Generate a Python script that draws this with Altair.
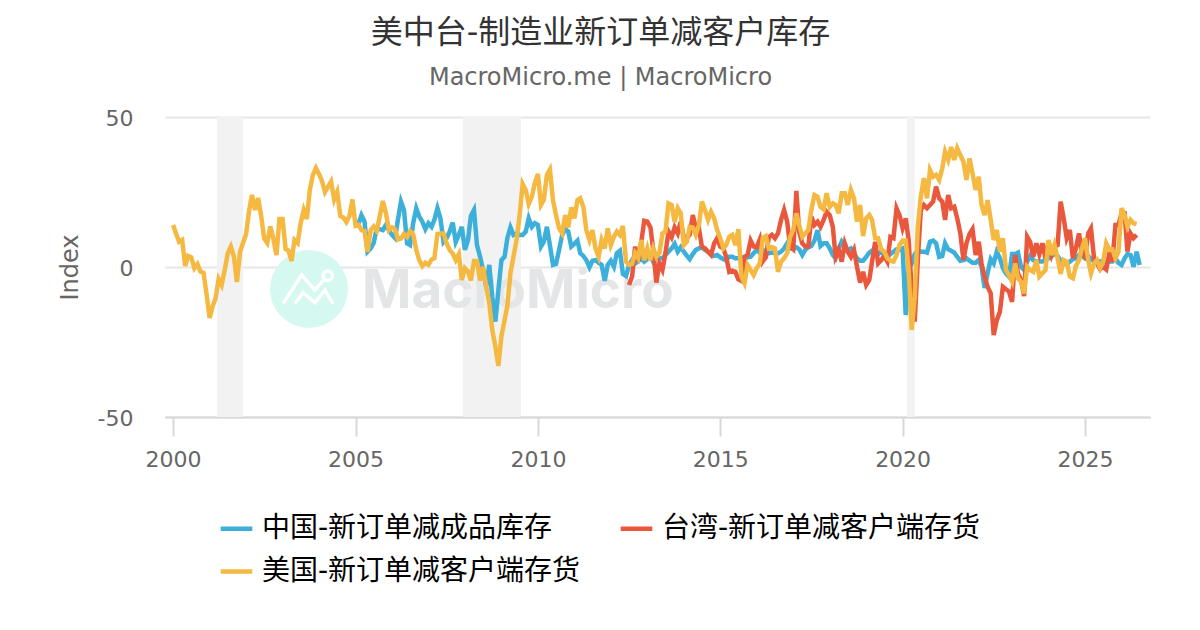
import altair as alt
import pandas as pd

TITLE = "美中台-制造业新订单减客户库存"
SUBTITLE = "MacroMicro.me | MacroMicro"
NAMES = ["中国-新订单减成品库存", "台湾-新订单减客户端存货", "美国-新订单减客户端存货"]
COLORS = ["#3cafda", "#e9573d", "#f5b841"]

us = [
 14,11,8.4,9,0.3,3.7,3.2,-0.4,1,-1.5,-2,-9,
 -17,-13,-10.5,-4,-6,-1,4.5,6.8,3.5,-5,5,8,
 11,19,24,19,23,17,9.5,8,13.5,9.5,4,16,
 16,6,5.5,2,9,8,14.5,19,16,25.7,30.7,33,
 31,28.5,25,26.8,28.5,22.5,25,17,16.5,15,17,22.5,
 13.7,14,12.3,12,5,12.3,13.5,12,17,22,18,12.3,
 13.2,12.5,9.2,9.5,11,10,12,11,5.7,2.3,0.3,1.4,
 0.7,2.5,2.9,11,11.2,11.2,7.9,5.7,4.5,2.3,4.3,-4.3,
 -0.4,-1.5,-4.5,2,2,-4.5,0.1,-6.5,-12,-21,-26.5,-33,
 -23,-17.7,-13,-2,3.4,9,16.8,27.7,25.7,21,23.4,27.9,
 31,20.7,22.3,30.7,32.5,22.3,17.3,12.9,11.2,17.3,13.2,19.9,
 16.2,22.3,22.9,20,12.3,9,12.3,6.2,3.4,9,6.2,12.9,
 7.3,10.1,11.8,10.7,13.7,1.8,0.7,1,4.6,2.9,9,2.3,
 6.2,2.3,6.2,3.4,4.6,11.2,11.8,21.2,20.7,15,19.6,17.9,
 7.3,8.4,13.4,13.2,10.7,14,21.8,19,15.7,18.4,16.2,12.3,
 9.6,6.2,7.3,10.1,10.7,7.3,12.6,-3.2,-5.4,0.7,-1,-2.7,
 -0.4,1.2,9.6,10.3,6.2,6.6,6.2,-1.6,1.8,2.9,4.6,10.1,
 12.3,17.9,14,10.1,11.2,12.3,19,24,23.4,20,19.2,24.6,
 20,21.2,20.7,17.9,24.6,24.6,20.7,25.7,22.9,15.1,20.7,10.3,
 16.2,17.3,15.7,9.6,9.6,5.9,5.1,2.9,2.1,1.8,4,7.3,
 8.8,8.8,-1,-21,-9.9,13.4,23.4,29.6,22.9,32.3,30.1,30.7,
 29,32.9,38.4,35.7,40,35.7,39.6,37.3,35.1,29,36.2,31.2,
 25.7,30.1,20.7,17.3,22.3,15.7,9,12.3,5.1,9.6,-1,-2.7,
 -4.9,1.2,-3.8,-4.9,-8.8,0.1,-1,-1.6,2.3,-3.2,-2.1,-1,
 9,4,7.3,2.9,-2.3,2.3,1.8,-3.2,-3.8,0.3,2.3,6.2,
 9.6,2.3,-2.1,1.2,2.3,-0.4,1.8,7.9,5.7,5.9,2.9,5.1,
 19.6,17.3,13.4,15.7,14.6,14.3,
]
cn = [
 14.6,17.3,15.1,5.1,6.2,7.9,12.9,12.6,12.3,14,12.3,
 10.7,9.6,15.7,21.8,19,7.9,7.3,14.6,19.6,16.8,15.1,12.6,
 14.6,13.4,15.7,19.6,16.2,8.4,9.6,11.8,14.8,8.4,10.7,13.4,
 5.7,9,17,19,7.3,3.4,-1,-6.5,0.7,-9.9,-18.2,-7.7,
 2.3,3.4,9.6,13.2,10.7,11.2,10.7,10.7,11.8,16.2,13.4,14.6,
 14,6.8,8.4,13.4,7.3,0.7,1,5.7,10.7,12.6,11.8,6.8,
 7.7,8.8,4.6,3.7,2.3,-0.1,2.1,2.3,1.4,0.7,-4.6,0.7,
 2.1,0.1,4.6,5.4,-2.3,-3,0.7,2.3,1.2,1.8,2.9,1.8,
 2.6,3.7,1.8,3.7,2.9,2.9,4,5.1,6.2,7.7,5.1,6.6,
 5.1,3.7,2.6,4.3,5.7,6.2,6.6,5.7,5.1,4.3,3.7,4,
 3.2,2.6,2.3,3.4,3.4,2.9,2.9,3.2,2.9,3.2,3.4,4.6,
 5.7,4.8,5.7,4.8,4.6,4.8,4.6,4.6,5.1,6.2,7.9,6.2,
 6.2,6.6,5.9,4,5.7,6.6,7,8.8,12.3,7,7.9,7.9,
 6.2,4,2.9,6.2,8.4,6.8,5.7,6.2,4.6,2.9,2.1,2.1,
 3.4,4.8,5.4,5.1,4.3,5.1,4,3.4,4.3,5.1,5.9,5.7,
 6.2,-16,-1,1.2,4.3,5.4,5.1,5.1,4.8,8.4,8.8,7.9,
 3.4,3.7,7.9,5.9,5.4,4.8,3.4,2.1,2.3,2.9,2.1,1.4,
 1.4,2.3,0.1,-7,-2,2.6,1.2,5.1,2.9,-0.4,-2.1,-3.2,
 4.3,4.3,4.8,0.1,-1,1.8,3.7,2.3,1.8,1.8,1.8,2.3,
 2.9,3.7,4.3,3.7,2.1,1.2,1,1.8,2.6,2.9,4,3.7,
 2.9,3.7,2.6,1.8,2.1,1.8,1.8,1.4,1.8,1.8,2.9,1.4,
 0.7,2.9,4.3,4,0.1,5.1,0.7,
]
tw = [
 -6,-3.2,6.8,1.8,8.4,15.4,
 15.1,13.2,5.7,-5.2,1.2,-1,4.6,11.8,9.9,13.2,11.2,15.1,
 9.9,9.6,10.7,17.3,12.9,12.9,6.8,6.2,5.1,4,7.9,9.6,
 6.8,6.2,3.4,-1.6,-1.2,-1.6,-4.1,-4.6,3.4,4,8.8,6.8,
 6.6,9.2,1.8,3.2,9.9,10.7,9.6,11.2,15.7,19,15.1,6.8,
 5.9,25.4,11.8,7.9,6.8,6.8,16.8,14,15.1,13.4,15.7,18.4,
 17.3,13.4,3.4,5.7,1.8,7.9,5.1,3.4,5.7,0.1,-5.2,-1.6,
 -6,-4.3,1.8,8.4,1.2,2.3,3.7,1.8,10,9.6,19.6,17.3,
 12.9,16.2,9,-7.7,-18.2,2.3,19,20.7,19.6,20.7,21.8,26.8,
 22.9,21.8,15.7,24,19.6,20.1,16.2,11.2,2.3,7.9,11,12.6,
 4,8.4,1.2,-3.2,-6.6,-8.8,-22.7,-17.7,-14.9,-6.6,-7.4,-8.2,
 -11.6,4,-2.1,-4.3,-9.7,10.1,8.4,3.4,7.9,4.3,7.9,2.9,
 8.4,4,6.8,7.3,21.8,16.2,9.6,12.3,2.9,6.2,11.2,4.6,
 3.4,11.2,12.9,2.9,1.2,-0.8,0.1,-0.8,4.6,1.8,14,14,
 17.9,17.9,5.1,11.2,9.6,10.7,
]
series_start = ["2005-02-01", "2012-07-01", "2000-01-01"]
band_start = ["2001-03-15", "2007-12-12", "2020-02-15"]
band_end = ["2001-12-01", "2009-07-15", "2020-05-01"]

frames = []
for name, start, vals in zip(NAMES, series_start, [cn, tw, us]):
    frames.append(pd.DataFrame({
        "date": pd.date_range(start, periods=len(vals), freq="MS").strftime("%Y-%m-%d"),
        "v": vals,
        "name": name,
    }))
df = pd.concat(frames, ignore_index=True)
bands = pd.DataFrame({"a": band_start, "b": band_end})
one = pd.DataFrame({"a": [0]})

FONT = "DejaVu Sans, Noto Sans CJK SC, sans-serif"
xscale = alt.Scale(domain=["1999-10-12", "2026-10-13"])
yscale = alt.Scale(domain=[-50, 50], nice=False)

band = alt.Chart(bands).mark_rect(color="#f2f2f2").encode(
    x=alt.X("a:T", scale=xscale, title=None,
            axis=alt.Axis(tickCount={"interval": "year", "step": 5}, format="%Y", grid=False,
                          domainColor="#d8d8d8", domainWidth=2, tickColor="#d8d8d8", tickWidth=2,
                          tickSize=19, labelFontSize=22, labelColor="#666666", labelPadding=13,
                          labelFont=FONT, labelFlush=False, labelOverlap=False)),
    x2="b:T",
)

circle = alt.Chart(one).mark_point(shape="circle", filled=True, fill="#d5f8f1", opacity=1, stroke=None, size=6084).encode(
    x=alt.value(144), y=alt.value(172))
LOGO = ("M-0.66 0.37L-0.19 -0.36L0.15 0.03L0.37 -0.23M-0.36 0.37L-0.15 0.09L0.15 0.35L0.41 0.03L0.62 0.38"
        "M0.6 -0.34A0.12 0.12 0 1 1 0.36 -0.34A0.12 0.12 0 1 1 0.6 -0.34")
logo = alt.Chart(one).mark_point(shape=LOGO, filled=False, stroke="#ffffff", strokeWidth=3.5, opacity=1, size=6084).encode(
    x=alt.value(144), y=alt.value(172))
wm = alt.Chart(one).mark_text(text="MacroMicro", font="Inter", fontWeight=700, fontSize=53, color="#e4e5e7",
                              align="left", baseline="alphabetic").encode(
    x=alt.value(197), y=alt.value(191))

line = alt.Chart(df).mark_line(strokeWidth=4.5, interpolate="linear").encode(
    x=alt.X("date:T", scale=xscale),
    y=alt.Y("v:Q", scale=yscale, title="Index",
            axis=alt.Axis(values=[-50, 0, 50], gridColor="#e6e6e6", gridWidth=2, domain=False, ticks=False,
                          labelFontSize=22, labelColor="#666666", labelPadding=32, labelFont=FONT,
                          labelExpr="datum.value", labelOffset=1,
                          titleFont=FONT, titleFontSize=24, titleColor="#666666", titleFontWeight="normal",
                          titlePadding=15)),
    color=alt.Color("name:N", sort=NAMES, scale=alt.Scale(domain=NAMES, range=COLORS),
                    legend=alt.Legend(title=None, orient="none", legendX=53, legendY=393, columns=2,
                                      direction="horizontal",
                                      symbolType="stroke", symbolSize=1000, symbolStrokeWidth=4.5,
                                      labelFont=FONT, labelFontSize=28, labelColor="#000000", labelLimit=500,
                                      labelOffset=7, columnPadding=30, rowPadding=10)),
)

chart = alt.layer(band, circle, logo, wm, line).properties(
    width=985, height=300,
    padding={"left": 157, "top": 109, "right": 42, "bottom": 205},
    autosize=alt.AutoSizeParams(type="none"),
    title=alt.TitleParams(TITLE, subtitle=SUBTITLE, anchor="middle", dx=-57, offset=16, font=FONT, fontSize=32,
                          fontWeight="normal", color="#333333", subtitleFont=FONT, subtitleFontSize=24,
                          subtitleColor="#666666", subtitlePadding=16),
).configure_view(stroke=None)

chart.save("out.html", embed_options={"renderer": "svg", "actions": False})
